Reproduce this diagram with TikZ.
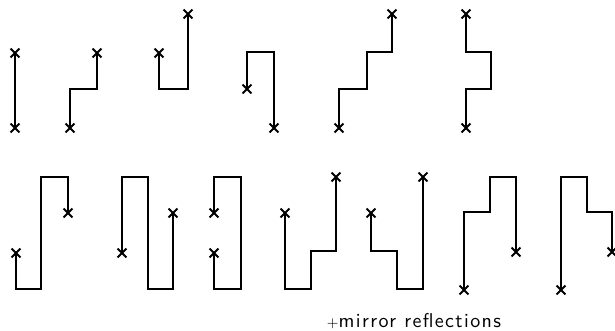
\documentclass[tikz,border=0pt]{standalone}
\usepackage{fontspec}
\newfontfamily\capfont[LetterSpace=7]{lmsans10-regular.otf}
\begin{document}
\begin{tikzpicture}[x=1pt,y=-1pt,
  walk/.style={line width=1.5pt,line join=miter},
  xmark/.pic={\draw[line width=2pt] (-4.4,-4.4) -- (4.4,4.4) (-4.4,4.4) -- (4.4,-4.4);},
  caption/.style={font=\fontsize{20}{20}\capfont,inner sep=0pt}]
\useasboundingbox (0,0) rectangle (615,330);
% top row
\draw[walk] (15,53) -- (15,128);
\pic at (15,53) {xmark}; \pic at (15,128) {xmark};
\draw[walk] (70,128) -- (70,89) -- (97,89) -- (97,53);
\pic at (70,128) {xmark}; \pic at (97,53) {xmark};
\draw[walk] (159,53) -- (159,89) -- (188,89) -- (188,14);
\pic at (159,53) {xmark}; \pic at (188,14) {xmark};
\draw[walk] (247,89) -- (247,52) -- (274,52) -- (274,128);
\pic at (247,89) {xmark}; \pic at (274,128) {xmark};
\draw[walk] (339,128) -- (339,89) -- (367,89) -- (367,52) -- (392,52) -- (392,14);
\pic at (339,128) {xmark}; \pic at (392,14) {xmark};
\draw[walk] (466,14) -- (466,52) -- (491,52) -- (491,89) -- (466,89) -- (466,128);
\pic at (466,14) {xmark}; \pic at (466,128) {xmark};
% bottom row
\draw[walk] (16,253) -- (16,289) -- (41,289) -- (41,177) -- (68,177) -- (68,213);
\pic at (16,253) {xmark}; \pic at (68,213) {xmark};
\draw[walk] (122,253) -- (122,177) -- (148,177) -- (148,289) -- (173,289) -- (173,213);
\pic at (122,253) {xmark}; \pic at (173,213) {xmark};
\draw[walk] (214,213) -- (214,177) -- (241,177) -- (241,289) -- (214,289) -- (214,253);
\pic at (214,213) {xmark}; \pic at (214,253) {xmark};
\draw[walk] (285,213) -- (285,289) -- (311,289) -- (311,251) -- (336,251) -- (336,177);
\pic at (285,213) {xmark}; \pic at (336,177) {xmark};
\draw[walk] (371,213) -- (371,251) -- (397,251) -- (397,289) -- (423,289) -- (423,177);
\pic at (371,213) {xmark}; \pic at (423,177) {xmark};
\draw[walk] (464,290) -- (464,212) -- (490,212) -- (490,177) -- (516,177) -- (516,252);
\pic at (464,290) {xmark}; \pic at (516,252) {xmark};
\draw[walk] (561,290) -- (561,177) -- (587,177) -- (587,212) -- (612,212) -- (612,252);
\pic at (561,290) {xmark}; \pic at (612,252) {xmark};
% caption
\node[caption,anchor=base] (cap) at (414,327) {{\fontsize{15}{15}\selectfont+}mirror reflections};
\end{tikzpicture}
\end{document}
